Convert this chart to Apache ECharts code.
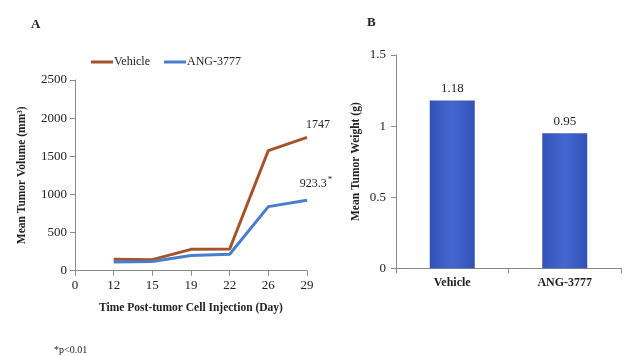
<!DOCTYPE html>
<html><head><meta charset="utf-8">
<script src="https://cdn.jsdelivr.net/npm/echarts@6/dist/echarts.min.js"></script>
<style>html,body{margin:0;padding:0;background:#fff}#c{width:635px;height:356px}</style>
</head><body><div id="c"></div>
<script>
const dayLabels = ['0','12','15','19','22','26','29'];
const vehicleVolume = [null, 150, 145, 280, 285, 1575, 1747];
const angVolume = [null, 115, 120, 200, 215, 840, 923.3];
const volumeTicks = [0, 500, 1000, 1500, 2000, 2500];
const groups = ['Vehicle', 'ANG-3777'];
const meanWeight = [1.18, 0.95];

const FONT = 'Liberation Serif';
const TXT = '#222';
const AX = '#8a8a8a';
const chart = echarts.init(document.getElementById('c'), null, {renderer:'canvas'});
const lastIdx = dayLabels.length - 1;
chart.setOption({
  backgroundColor: '#ffffff',
  animation: false,
  textStyle: {fontFamily: FONT, color: TXT},
  title: [
    {text: 'A', left: 26, top: 13, textStyle: {fontFamily: FONT, fontSize: 13, fontWeight: 'bold', color: TXT}},
    {text: 'B', left: 362, top: 11, textStyle: {fontFamily: FONT, fontSize: 13, fontWeight: 'bold', color: TXT}},
    {text: '*p<0.01', left: 49, top: 340, textStyle: {fontFamily: FONT, fontSize: 10, fontWeight: 'normal', color: TXT}}
  ],
  legend: {
    left: 86, top: 51, itemWidth: 22, itemHeight: 3, itemGap: 14, icon: 'rect',
    textStyle: {fontFamily: FONT, fontSize: 12, color: TXT, padding: [0,0,0,-4]},
    data: ['Vehicle', 'ANG-3777']
  },
  grid: [
    {left: 75, top: 80, width: 232, height: 190.7},
    {left: 396, top: 55, width: 225, height: 213.3}
  ],
  xAxis: [
    {type: 'category', gridIndex: 0, data: dayLabels, boundaryGap: false,
     axisLine: {lineStyle: {color: AX}}, axisTick: {show: true, alignWithLabel: true, lineStyle: {color: AX}},
     axisLabel: {fontFamily: FONT, fontSize: 13, color: TXT, margin: 8},
     name: 'Time Post-tumor Cell Injection (Day)', nameLocation: 'middle', nameGap: 31,
     nameTextStyle: {fontFamily: FONT, fontSize: 11.5, fontWeight: 'bold', color: TXT}},
    {type: 'category', gridIndex: 1, data: groups,
     axisLine: {lineStyle: {color: AX}}, axisTick: {show: true, lineStyle: {color: AX}},
     axisLabel: {fontFamily: FONT, fontSize: 12, fontWeight: 'bold', color: TXT, margin: 9}}
  ],
  yAxis: [
    {type: 'value', gridIndex: 0, min: 0, max: 2500, interval: 500,
     splitLine: {show: false}, axisLine: {show: true, lineStyle: {color: AX}},
     axisTick: {show: true, lineStyle: {color: AX}},
     axisLabel: {fontFamily: FONT, fontSize: 13, color: TXT, margin: 8, formatter: v => String(v)},
     name: 'Mean Tumor Volume (mm³)', nameLocation: 'middle', nameGap: 47, nameRotate: 90,
     nameTextStyle: {fontFamily: FONT, fontSize: 11.5, fontWeight: 'bold', color: TXT}},
    {type: 'value', gridIndex: 1, min: 0, max: 1.5, interval: 0.5,
     splitLine: {show: false}, axisLine: {show: true, lineStyle: {color: AX}},
     axisTick: {show: true, lineStyle: {color: AX}},
     axisLabel: {fontFamily: FONT, fontSize: 13, color: TXT, margin: 10},
     name: 'Mean Tumor Weight (g)', nameLocation: 'middle', nameGap: 34, nameRotate: 90,
     nameTextStyle: {fontFamily: FONT, fontSize: 11.5, fontWeight: 'bold', color: TXT}}
  ],
  series: [
    {name: 'Vehicle', type: 'line', xAxisIndex: 0, yAxisIndex: 0, data: vehicleVolume,
     symbol: 'circle', symbolSize: 0.1, showSymbol: true, showAllSymbol: true, connectNulls: false,
     color: '#a6532b', lineStyle: {width: 3, color: '#a6532b'},
     label: {show: true, fontFamily: FONT, fontSize: 12, color: TXT, position: 'top', distance: 7, offset: [11, 0],
       formatter: p => p.dataIndex === lastIdx ? String(p.value) : ''}},
    {name: 'ANG-3777', type: 'line', xAxisIndex: 0, yAxisIndex: 0, data: angVolume,
     symbol: 'circle', symbolSize: 0.1, showSymbol: true, showAllSymbol: true, connectNulls: false,
     color: '#4a7dcb', lineStyle: {width: 3, color: '#4a7dcb'},
     label: {show: true, fontFamily: FONT, fontSize: 12, color: TXT, position: 'top', distance: 8, offset: [9, 0],
       formatter: p => p.dataIndex === lastIdx ? (p.value + '{s|*}') : '',
       rich: {s: {fontFamily: FONT, fontSize: 9, color: TXT, verticalAlign: 'top', padding: [0,0,8,1]}}}},
    {name: 'Weight', type: 'bar', xAxisIndex: 1, yAxisIndex: 1, data: meanWeight, barWidth: '40%',
     itemStyle: {color: new echarts.graphic.LinearGradient(0, 0, 1, 0, [
       {offset: 0, color: '#3152b8'}, {offset: 0.5, color: '#4468d0'}, {offset: 1, color: '#3152b8'}])},
     label: {show: true, position: 'top', fontFamily: FONT, fontSize: 13, color: TXT, distance: 5}}
  ]
});
</script></body></html>
